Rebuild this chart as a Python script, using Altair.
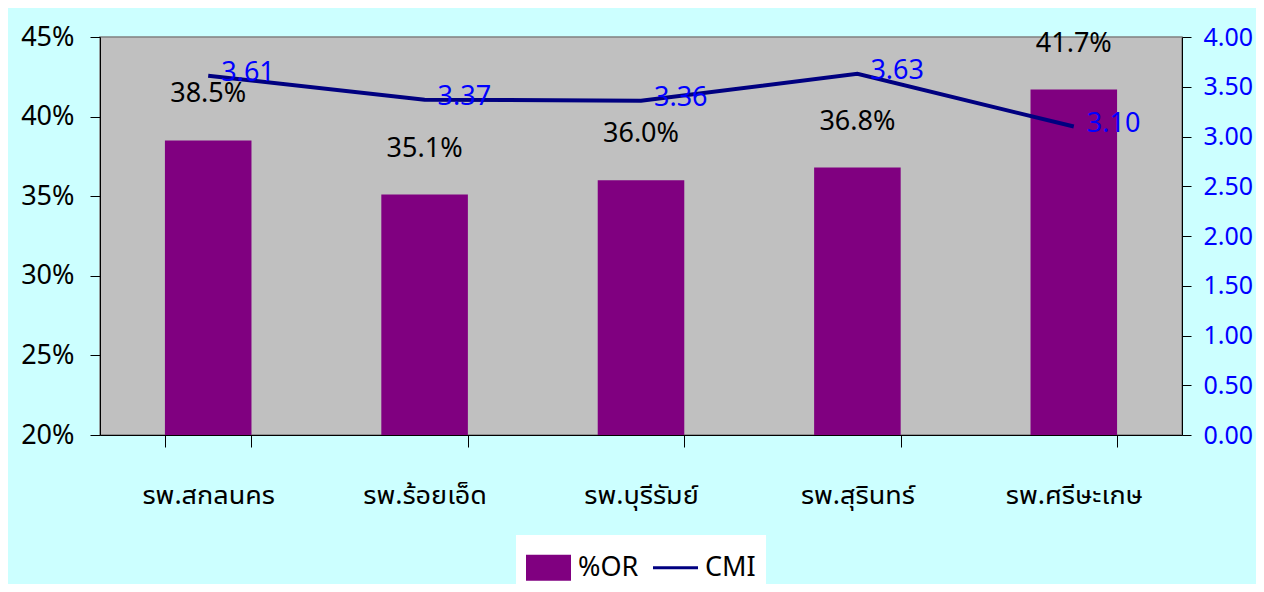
import altair as alt
import pandas as pd

hospitals = ["รพ.สกลนคร", "รพ.ร้อยเอ็ด", "รพ.บุรีรัมย์", "รพ.สุรินทร์", "รพ.ศรีษะเกษ"]
or_pct = [0.385, 0.351, 0.360, 0.368, 0.417]
cmi = [3.61, 3.37, 3.36, 3.63, 3.10]
series_names = ["%OR", "CMI"]
series_colors = ["#800080", "#000080"]
left_ticks = [0.20, 0.25, 0.30, 0.35, 0.40, 0.45]
right_ticks = [0.0, 0.5, 1.0, 1.5, 2.0, 2.5, 3.0, 3.5, 4.0]

df = pd.DataFrame({"hospital": hospitals, "or_pct": or_pct, "cmi": cmi})
legend_df = pd.DataFrame({"series": series_names})

FONT = "Noto Sans Thai UI, Noto Sans Thai, Noto Sans"
FS = 27

x_enc = alt.X("hospital:N", sort=hospitals, title=None,
              scale=alt.Scale(paddingInner=0.6, paddingOuter=0.3),
              axis=alt.Axis(labelAngle=0, tickBand="extent", tickSize=12,
                            labelPadding=35, labelFontSize=FS, labelColor="black",
                            domainColor="black", tickColor="black", grid=False))

base = alt.Chart(df)

left_y = alt.Y("or_pct:Q", title=None,
               scale=alt.Scale(domain=[0.20, 0.45], zero=False, nice=False),
               axis=alt.Axis(values=left_ticks, format=".0%", tickSize=10,
                             labelPadding=16, labelFontSize=FS, labelColor="black",
                             domainColor="black", tickColor="black", grid=False))

bars = base.mark_bar(color="#800080", clip=True).encode(x=x_enc, y=left_y,
                                                      y2=alt.datum(0.20))
bar_text = base.mark_text(fontSize=FS, color="black", dy=-46, baseline="middle",
                          font=FONT).encode(
    x=x_enc, y="or_pct:Q", text=alt.Text("or_pct:Q", format=".1%"))
left = alt.layer(bars, bar_text)

right_y = alt.Y("cmi:Q", title=None,
                scale=alt.Scale(domain=[0, 4], nice=False),
                axis=alt.Axis(orient="right", values=right_ticks, format=".2f",
                              tickSize=9, labelPadding=12, labelFontSize=25,
                              labelColor="#0000FF", domainColor="black",
                              tickColor="black", grid=False))
line = base.mark_line(color="#000080", strokeWidth=4).encode(x=x_enc, y=right_y)
line_text = base.mark_text(fontSize=FS, color="#0000FF", align="left", dx=13, dy=-3,
                           baseline="middle", font=FONT).encode(
    x=x_enc, y="cmi:Q", text=alt.Text("cmi:Q", format=".2f"))
right = alt.layer(line, line_text)

leg = dict(title=None, orient="none", legendX=416, legendY=498,
           direction="horizontal", fillColor="white",
           padding=10, symbolSize=2025, symbolOpacity=1,
           symbolStrokeWidth=0, labelFontSize=FS,
           labelFont=FONT, labelColor="black",
           labelOffset=7, columnPadding=14)

legend_layer = alt.Chart(legend_df).mark_point(filled=True, opacity=0).encode(
    color=alt.Color("series:N", sort=series_names,
                    scale=alt.Scale(domain=series_names, range=series_colors),
                    legend=alt.Legend(**leg)),
    shape=alt.Shape("series:N", sort=series_names,
                    scale=alt.Scale(domain=series_names,
                                    range=["M-1,-0.58H1V0.58H-1Z", "M-1,-0.07H1V0.07H-1Z"]),
                    legend=alt.Legend(**leg)),
)

chart = alt.layer(left, right, legend_layer).resolve_scale(y="independent").properties(
    width=1082, height=398,
    autosize=alt.AutoSizeParams(type="none"),
    padding={"left": 92, "top": 29, "right": 74, "bottom": 149},
    background="#CCFFFF",
    view=alt.ViewBackground(fill="#C0C0C0", stroke="#808080", strokeWidth=1.5),
).configure_view(fill="#C0C0C0", stroke="#808080", strokeWidth=1.5).configure_axis(
    labelFont=FONT
).configure_text(font=FONT)

chart.save("out.html", embed_options={"renderer": "svg", "actions": False})
